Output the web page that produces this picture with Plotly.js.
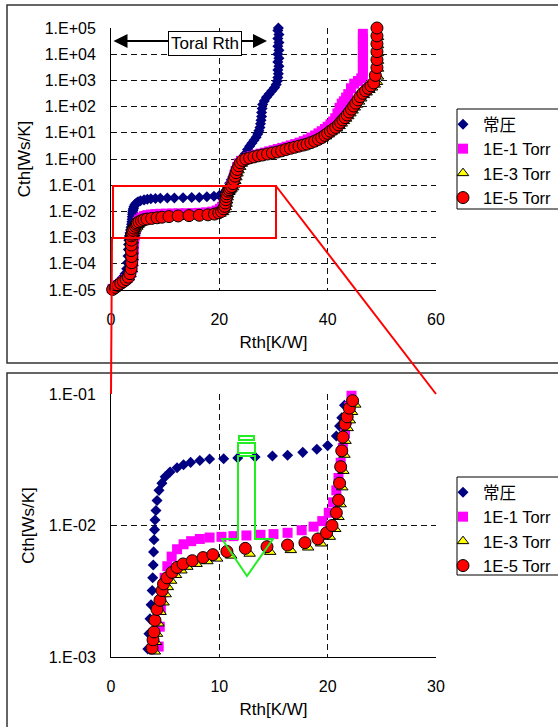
<!DOCTYPE html>
<html>
<head>
<meta charset="utf-8">
<script src="https://cdn.plot.ly/plotly-3.0.1.min.js"></script>
<style>html,body{margin:0;padding:0;background:#fff;}#chart{width:558px;height:727px;}</style>
</head>
<body>
<div id="chart"></div>
<script>
// ---- data ----
const seriesNames = ['常圧', '1E-1 Torr', '1E-3 Torr', '1E-5 Torr'];

const rthAtm = [0.2,0.6,1.0,1.4,1.8,2.2,2.6,2.9,3.05,3.15,3.2,3.25,3.3,
  3.4,3.5,3.6,3.7,3.8,3.85,3.9,3.93,3.97,4.02,4.06,4.15,4.25,4.43,4.7,5.0,5.45,6.1,6.7,7.35,8.2,9.1,
  10.4,11.7,13.3,14.9,16.3,17.7,19.0,20.0,20.8,21.1,21.3,21.55,
  21.9,22.2,22.5,22.8,23.1,23.4,23.7,24.0,24.4,24.8,25.2,25.6,26.0,26.4,26.8,27.1,27.3,27.5,27.6,27.7,27.8,27.8,27.9,28.0,
  28.3,28.7,29.2,29.7,30.2,30.5,30.7,30.8,30.9,30.8,31.0,30.8,31.0,30.8,31.0,30.8,31.0,30.8,31.0,30.8,30.9];
const cthAtm = [1.1e-5,1.3e-5,1.6e-5,2.0e-5,2.5e-5,3.1e-5,4.2e-5,6.5e-5,1.1e-4,2.0e-4,3.5e-4,5.5e-4,8.0e-4,
  1.15e-3,1.5e-3,1.95e-3,2.5e-3,3.2e-3,4.0e-3,5.0e-3,6.3e-3,7.8e-3,9.3e-3,1.1e-2,1.3e-2,1.55e-2,1.85e-2,2.1e-2,2.35e-2,2.55e-2,2.75e-2,2.9e-2,3.02e-2,3.12e-2,3.2e-2,
  3.22e-2,3.26e-2,3.32e-2,3.38e-2,3.42e-2,3.6e-2,3.8e-2,4.05e-2,4.8e-2,5.7e-2,6.6e-2,8.2e-2,
  0.12,0.16,0.21,0.28,0.37,0.5,0.65,0.85,1.15,1.6,2.3,3.1,4.0,5.2,6.8,9,12,16,22,30,42,60,85,120,
  165,225,300,400,530,700,950,1300,1800,2500,3500,5000,7000,10000,14000,20000,28000,40000,56000,80000,100000];

const rthT1 = [0.3,0.8,1.3,1.8,2.3,2.8,3.3,3.7,3.95,4.1,4.15,4.2,4.25,4.3,
  4.4,4.5,4.6,4.75,4.95,5.2,5.6,6.1,6.7,7.4,8.2,9.1,10.2,11.3,12.5,13.8,15.0,16.3,17.6,18.7,19.5,20.1,20.5,20.8,21.0,21.2,21.4,21.6,21.8,22.0,22.2,
  22.4,22.6,22.8,23.0,23.3,23.6,24.0,24.6,25.3,26.0,26.8,27.6,28.4,29.2,30.0,30.8,31.6,32.4,33.2,34.0,34.8,35.6,36.3,37.0,37.7,38.3,38.9,39.5,40.0,40.5,41.0,41.4,41.8,42.2,42.6,43.0,43.4,43.8,44.3,44.9,45.6,46.2,
  46.5,46.5,46.5,46.5,46.5,46.5,46.5,46.5,46.5,46.5,46.5];
const cthT1 = [1.1e-5,1.3e-5,1.55e-5,1.85e-5,2.2e-5,2.6e-5,3.3e-5,4.6e-5,7e-5,1.2e-4,2.0e-4,3.4e-4,5.5e-4,8.5e-4,
  1.2e-3,1.7e-3,2.3e-3,3.1e-3,4.0e-3,4.9e-3,5.8e-3,6.6e-3,7.2e-3,7.6e-3,7.9e-3,8.1e-3,8.2e-3,8.3e-3,8.4e-3,8.5e-3,8.6e-3,8.8e-3,9.2e-3,9.8e-3,1.08e-2,1.25e-2,1.5e-2,1.85e-2,2.3e-2,3.0e-2,3.9e-2,5.0e-2,6.4e-2,8.0e-2,9.7e-2,
  0.13,0.18,0.25,0.35,0.5,0.68,0.85,1.0,1.15,1.3,1.45,1.6,1.75,1.95,2.15,2.4,2.65,2.95,3.3,3.7,4.2,4.8,5.6,6.6,7.9,9.5,11.5,14,17,21,27,36,55,90,130,160,220,300,500,750,950,1200,
  1600,2400,3600,5400,8000,12000,18000,27000,40000,60000,110000];

const rthT3 = [0.35,0.85,1.35,1.85,2.35,2.85,3.3,3.6,3.85,3.95,3.98,3.95,3.97,4.0,
  4.05,4.15,4.25,4.38,4.58,4.85,5.05,5.25,5.55,6.0,6.5,7.05,7.9,8.9,9.8,11.1,12.8,14.7,16.6,18.2,19.4,20.2,20.7,21.0,21.2,21.35,21.45,21.55,21.65,21.85,22.05,22.25,22.55,
  22.75,22.95,23.15,23.35,23.55,23.85,24.15,24.55,25.1,25.8,26.6,27.4,28.2,29.1,30.0,30.9,31.7,32.5,33.3,34.1,34.9,35.7,36.4,37.1,37.8,38.5,39.1,39.7,40.2,40.7,41.2,41.7,42.2,42.6,43.0,43.4,43.8,44.2,44.6,45.0,45.4,45.8,46.2,46.7,47.2,47.7,48.2,48.7,49.1,
  49.3,49.3,49.3,49.3,49.3,49.3];
const cthT3 = [1.0e-5,1.2e-5,1.45e-5,1.75e-5,2.05e-5,2.4e-5,3.0e-5,4.0e-5,6.2e-5,1.05e-4,1.8e-4,3.0e-4,5.0e-4,7.8e-4,
  1.1e-3,1.3e-3,1.5e-3,1.8e-3,2.2e-3,2.6e-3,3.0e-3,3.4e-3,3.8e-3,4.2e-3,4.55e-3,4.85e-3,5.1e-3,5.35e-3,5.6e-3,5.9e-3,6.1e-3,6.3e-3,6.5e-3,6.8e-3,7.3e-3,8.2e-3,9.4e-3,1.16e-2,1.45e-2,1.95e-2,2.6e-2,3.45e-2,4.4e-2,5.5e-2,6.3e-2,7.3e-2,8.3e-2,
  0.105,0.145,0.2,0.28,0.37,0.5,0.66,0.82,0.93,1.02,1.12,1.23,1.32,1.44,1.58,1.72,1.9,2.12,2.35,2.6,2.85,3.15,3.45,3.9,4.45,5.2,6.1,7.3,8.7,10.5,12.3,14.6,18,22.5,28,34.5,43,55,71,92,118,155,205,275,345,430,535,690,870,
  1400,2800,5600,11000,22000,45000];

const rthT5 = [0.3,0.8,1.3,1.8,2.3,2.8,3.2,3.5,3.7,3.8,3.8,3.75,3.75,3.77,
  3.79,3.88,3.97,4.06,4.25,4.52,4.71,4.85,5.17,5.63,6.1,6.65,7.5,8.5,9.4,10.7,12.4,14.4,16.3,17.9,19.1,19.9,20.4,20.8,21.0,21.1,21.2,21.3,21.4,21.6,21.8,22.0,22.3,
  22.5,22.7,22.9,23.1,23.3,23.6,23.9,24.3,24.9,25.6,26.4,27.2,28.0,28.9,29.8,30.7,31.5,32.3,33.1,33.9,34.7,35.5,36.2,36.9,37.6,38.3,38.9,39.5,40.0,40.5,41.0,41.5,42.0,42.4,42.8,43.2,43.6,44.0,44.4,44.8,45.2,45.6,46.0,46.5,47.0,47.5,48.0,48.5,48.8,
  49.1,49.1,49.1,49.1,49.1,49.1,49.1];
const cthT5 = [1.05e-5,1.25e-5,1.5e-5,1.8e-5,2.1e-5,2.5e-5,3.1e-5,4.2e-5,6.5e-5,1.1e-4,1.9e-4,3.2e-4,5.2e-4,8.0e-4,
  1.17e-3,1.35e-3,1.55e-3,1.9e-3,2.3e-3,2.7e-3,3.2e-3,3.6e-3,4.0e-3,4.4e-3,4.8e-3,5.1e-3,5.4e-3,5.7e-3,6.0e-3,6.35e-3,6.7e-3,6.9e-3,7.1e-3,7.4e-3,7.9e-3,8.8e-3,1.0e-2,1.25e-2,1.56e-2,2.1e-2,2.8e-2,3.7e-2,4.7e-2,5.9e-2,6.7e-2,7.8e-2,8.9e-2,
  0.115,0.16,0.22,0.3,0.4,0.55,0.72,0.88,1.0,1.1,1.2,1.32,1.42,1.55,1.7,1.85,2.05,2.3,2.55,2.8,3.1,3.4,3.7,4.2,4.8,5.6,6.6,8.0,9.5,11.5,13.5,16,20,25,31,38,48,62,80,105,135,180,240,320,400,500,620,800,
  1550,3100,6200,12500,25000,50000,100000];

const xTicksTop = [0, 20, 40, 60];
const xTicksBottom = [0, 10, 20, 30];
const yTicksTop = [1e-5,1e-4,1e-3,1e-2,1e-1,1e0,1e1,1e2,1e3,1e4,1e5];
const yLabelsTop = ['1.E-05','1.E-04','1.E-03','1.E-02','1.E-01','1.E+00','1.E+01','1.E+02','1.E+03','1.E+04','1.E+05'];
const yTicksBottom = [1e-3, 1e-2, 1e-1];
const yLabelsBottom = ['1.E-03','1.E-02','1.E-01'];
const axisTitleX = 'Rth[K/W]';
const axisTitleY = 'Cth[Ws/K]';
const noteText = 'Toral Rth';

// ---- styling ----
const W = 558, H = 727;
const px = x => x / W;
const py = y => 1 - y / H;
const FONT = '"Liberation Sans", Arial, "Noto Sans CJK JP", sans-serif';

const styles = [
  {symbol: 'diamond', size: 8.5, color: '#000080', line: {width: 0}},
  {symbol: 'square', size: 10, color: '#FF00FF', line: {width: 0}},
  {symbol: 'triangle-up', size: 10, color: '#FFFF00', line: {width: 1, color: '#000'}},
  {symbol: 'circle', size: 12, color: '#FF0000', line: {width: 1, color: '#000'}}
];
const xs = [rthAtm, rthT1, rthT3, rthT5];
const ys = [cthAtm, cthT1, cthT3, cthT5];

const traces = [];
for (let i = 0; i < 4; i++) {
  traces.push({
    type: 'scatter', mode: 'markers', name: seriesNames[i],
    x: xs[i], y: ys[i], xaxis: 'x', yaxis: 'y', legend: 'legend',
    marker: styles[i], cliponaxis: false, hoverinfo: 'skip'
  });
}
for (let i = 0; i < 4; i++) {
  const bx = [], by = [];
  for (let k = 0; k < xs[i].length; k++) {
    if (ys[i][k] >= 1e-3 && ys[i][k] <= 0.1 && xs[i][k] <= 30) { bx.push(xs[i][k]); by.push(ys[i][k]); }
  }
  traces.push({
    type: 'scatter', mode: 'markers', name: seriesNames[i],
    x: bx, y: by, xaxis: 'x2', yaxis: 'y2', legend: 'legend2',
    marker: styles[i], cliponaxis: false, hoverinfo: 'skip'
  });
}

const gridCommon = {
  showline: true, linecolor: '#000', linewidth: 1, mirror: false,
  showgrid: true, gridcolor: '#111', gridwidth: 1, griddash: '6px,4px',
  zeroline: false, ticks: '', tickfont: {size: 16, family: FONT, color: '#000'}
};

const lineRed = {color: '#FF0000', width: 2};
const green = {color: '#22EE22', width: 2};
const frame = {color: '#333', width: 1.5};

const shapes = [
  // outer frames
  {type: 'rect', xref: 'paper', yref: 'paper', x0: px(7), x1: px(570), y0: py(5), y1: py(363), line: frame, layer: 'below'},
  {type: 'rect', xref: 'paper', yref: 'paper', x0: px(7), x1: px(570), y0: py(373), y1: py(740), line: frame, layer: 'below'},
  // legend boxes
  {type: 'rect', xref: 'paper', yref: 'paper', x0: px(457), x1: px(570), y0: py(109), y1: py(209), line: {color: '#000', width: 1}},
  {type: 'rect', xref: 'paper', yref: 'paper', x0: px(457), x1: px(570), y0: py(477), y1: py(575), line: {color: '#000', width: 1}},
  // zoom rectangle and connectors
  {type: 'rect', xref: 'paper', yref: 'paper', x0: px(113), x1: px(276), y0: py(186), y1: py(238), line: lineRed, layer: 'above'},
  {type: 'line', xref: 'paper', yref: 'paper', x0: px(112), y0: py(238), x1: px(111), y1: py(394), line: lineRed, layer: 'above'},
  {type: 'line', xref: 'paper', yref: 'paper', x0: px(276), y0: py(186), x1: px(436), y1: py(394), line: lineRed, layer: 'above'},
  // green block arrow
  {type: 'path', xref: 'paper', yref: 'paper', layer: 'above', line: green,
   path: 'M' + px(238) + ',' + py(456) + ' L' + px(255) + ',' + py(456) + ' L' + px(255) + ',' + py(539) +
         ' L' + px(273) + ',' + py(539) + ' L' + px(247) + ',' + py(576) + ' L' + px(222) + ',' + py(539) +
         ' L' + px(238) + ',' + py(539) + ' Z'},
  {type: 'rect', xref: 'paper', yref: 'paper', layer: 'above', line: green, x0: px(238), x1: px(255), y0: py(443), y1: py(453)},
  {type: 'rect', xref: 'paper', yref: 'paper', layer: 'above', line: green, x0: px(239), x1: px(254), y0: py(436), y1: py(440)}
];

const annotations = [
  {xref: 'paper', yref: 'paper', x: px(267), y: py(41), ax: -155, ay: 0, text: '', showarrow: true,
   arrowside: 'end+start', arrowhead: 2, startarrowhead: 2, arrowsize: 1.4, startarrowsize: 1.4, arrowwidth: 2, arrowcolor: '#000'},
  {xref: 'paper', yref: 'paper', x: px(204.5), y: py(43), text: noteText, showarrow: false,
   font: {family: FONT, size: 17, color: '#000'}, bgcolor: '#fff', bordercolor: '#000', borderwidth: 1, borderpad: 2,
   xanchor: 'center', yanchor: 'middle'}
];

const layout = {
  width: W, height: H, margin: {l: 0, r: 0, t: 0, b: 0},
  paper_bgcolor: '#fff', plot_bgcolor: '#fff',
  font: {family: FONT, size: 16, color: '#000'},
  showlegend: true,
  xaxis: Object.assign({}, gridCommon, {domain: [px(111), px(436)], anchor: 'y', range: [0, 60],
    tickmode: 'array', tickvals: xTicksTop, ticktext: xTicksTop.map(String), ticklabelstandoff: 15,
    title: {text: axisTitleX, standoff: 8, font: {size: 17}}}),
  yaxis: Object.assign({}, gridCommon, {domain: [py(290), py(28)], anchor: 'x', type: 'log', range: [-5, 5],
    tickmode: 'array', tickvals: yTicksTop, ticktext: yLabelsTop, ticklabelstandoff: 11,
    title: {text: axisTitleY, standoff: 9, font: {size: 17}}}),
  xaxis2: Object.assign({}, gridCommon, {domain: [px(111), px(436)], anchor: 'y2', range: [0, 30],
    tickmode: 'array', tickvals: xTicksBottom, ticktext: xTicksBottom.map(String), ticklabelstandoff: 15,
    title: {text: axisTitleX, standoff: 8, font: {size: 17}}}),
  yaxis2: Object.assign({}, gridCommon, {domain: [py(657), py(394)], anchor: 'x2', type: 'log', range: [-3, -1],
    tickmode: 'array', tickvals: yTicksBottom, ticktext: yLabelsBottom, ticklabelstandoff: 11,
    title: {text: axisTitleY, standoff: 9, font: {size: 17}}}),
  legend: {x: px(443), y: py(107), xanchor: 'left', yanchor: 'top', bgcolor: 'rgba(0,0,0,0)', borderwidth: 0,
    font: {family: FONT, size: 16.5, color: '#000'}, tracegroupgap: 0},
  legend2: {x: px(443), y: py(475), xanchor: 'left', yanchor: 'top', bgcolor: 'rgba(0,0,0,0)', borderwidth: 0,
    font: {family: FONT, size: 16.5, color: '#000'}, tracegroupgap: 0},
  shapes: shapes,
  annotations: annotations
};

Plotly.newPlot('chart', traces, layout, {displayModeBar: false, staticPlot: true});
</script>
</body>
</html>
